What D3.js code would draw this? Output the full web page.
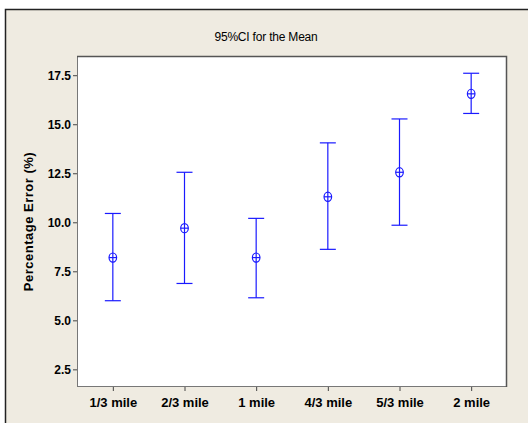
<!DOCTYPE html>
<html>
<head>
<meta charset="utf-8">
<script src="https://cdn.jsdelivr.net/npm/d3@7"></script>
<style>
  body { margin: 0; background: #fff; }
  svg { display: block; }
  .tick text { font-family: "Liberation Sans", Arial, sans-serif; font-weight: bold; fill: #000; }
</style>
</head>
<body>
<div id="chart"></div>
<script>
// chart data
var categories = ["1/3 mile", "2/3 mile", "1 mile", "4/3 mile", "5/3 mile", "2 mile"];
var means = [8.2, 9.7, 8.2, 11.3, 12.55, 16.55];
var lower = [6.0, 6.88, 6.15, 8.62, 9.85, 15.55];
var upper = [10.45, 12.55, 10.2, 14.05, 15.27, 17.6];
var yTicks = [2.5, 5.0, 7.5, 10.0, 12.5, 15.0, 17.5];

var svgWidth = 528;
var svgHeight = 423;

var margin = { top: 56, right: 21, bottom: 36, left: 77 };
var width = svgWidth - margin.left - margin.right;
var height = svgHeight - margin.top - margin.bottom;

var svg = d3.select("#chart")
  .append("svg")
  .attr("width", svgWidth)
  .attr("height", svgHeight);

// outer frame (left + top edges only visible)
svg.append("rect")
  .attr("x", 5.5).attr("y", 9.5)
  .attr("width", 540).attr("height", 430)
  .attr("fill", "#efebe1")
  .attr("stroke", "#222")
  .attr("stroke-width", 1.5);

svg.append("text")
  .attr("x", 266)
  .attr("y", 41)
  .attr("text-anchor", "middle")
  .style("font-family", "'Liberation Sans', Arial, sans-serif")
  .style("font-size", "12px")
  .style("letter-spacing", "-0.2px")
  .text("95%CI for the Mean");

var chartGroup = svg.append("g")
  .attr("transform", `translate(${margin.left}, ${margin.top})`);

chartGroup.append("rect")
  .attr("width", width)
  .attr("height", height)
  .attr("fill", "#fff");

var xScale = d3.scalePoint()
  .domain(categories)
  .range([0, width])
  .padding(0.5);

var yScale = d3.scaleLinear()
  .domain([1.6, 18.48])
  .range([height, 0]);

var bottomAxis = d3.axisBottom(xScale).tickSize(4).tickPadding(7);
var leftAxis = d3.axisLeft(yScale)
  .tickValues(yTicks)
  .tickFormat(d3.format(".1f"))
  .tickSize(4)
  .tickPadding(2);

var xAxisG = chartGroup.append("g")
  .attr("transform", `translate(0, ${height})`)
  .call(bottomAxis);
xAxisG.select(".domain").remove();
xAxisG.selectAll("line").attr("stroke", "#444");
xAxisG.selectAll("text").style("font-size", "13px");

var yAxisG = chartGroup.append("g").call(leftAxis);
yAxisG.select(".domain").remove();
yAxisG.selectAll("line").attr("stroke", "#444");
yAxisG.selectAll("text").style("font-size", "12px");

// plot frame
chartGroup.append("rect")
  .attr("x", 0.5).attr("y", 0.5)
  .attr("width", width - 1).attr("height", height - 1)
  .attr("fill", "none")
  .attr("stroke", "#777");
chartGroup.append("path")
  .attr("d", `M0,0.5H${width - 0.5}V${height}`)
  .attr("fill", "none")
  .attr("stroke", "#555")
  .attr("stroke-width", 1.5);

chartGroup.append("text")
  .attr("transform", "rotate(-90)")
  .attr("x", -height / 2)
  .attr("y", -margin.left + 28)
  .attr("dy", "0.35em")
  .attr("text-anchor", "middle")
  .style("font-family", "'Liberation Sans', Arial, sans-serif")
  .style("font-weight", "bold")
  .style("font-size", "13px")
  .style("letter-spacing", "0.5px")
  .text("Percentage Error (%)");

// error bars
var blue = "#1a1aff";
var idx = d3.range(categories.length);
var bars = chartGroup.selectAll(".ci")
  .data(idx)
  .enter()
  .append("g")
  .attr("class", "ci")
  .attr("stroke", blue)
  .attr("fill", "none")
  .attr("stroke-width", 1.2);

bars.append("line")
  .attr("x1", i => xScale(categories[i]))
  .attr("x2", i => xScale(categories[i]))
  .attr("y1", i => yScale(lower[i]))
  .attr("y2", i => yScale(upper[i]));

bars.append("line")
  .attr("x1", i => xScale(categories[i]) - 8)
  .attr("x2", i => xScale(categories[i]) + 8)
  .attr("y1", i => yScale(upper[i]))
  .attr("y2", i => yScale(upper[i]));

bars.append("line")
  .attr("x1", i => xScale(categories[i]) - 8)
  .attr("x2", i => xScale(categories[i]) + 8)
  .attr("y1", i => yScale(lower[i]))
  .attr("y2", i => yScale(lower[i]));

bars.append("ellipse")
  .attr("cx", i => xScale(categories[i]))
  .attr("cy", i => yScale(means[i]))
  .attr("rx", 3.8)
  .attr("ry", 4.6);

bars.append("line")
  .attr("x1", i => xScale(categories[i]) - 3.8)
  .attr("x2", i => xScale(categories[i]) + 3.8)
  .attr("y1", i => yScale(means[i]))
  .attr("y2", i => yScale(means[i]));
</script>
</body>
</html>
